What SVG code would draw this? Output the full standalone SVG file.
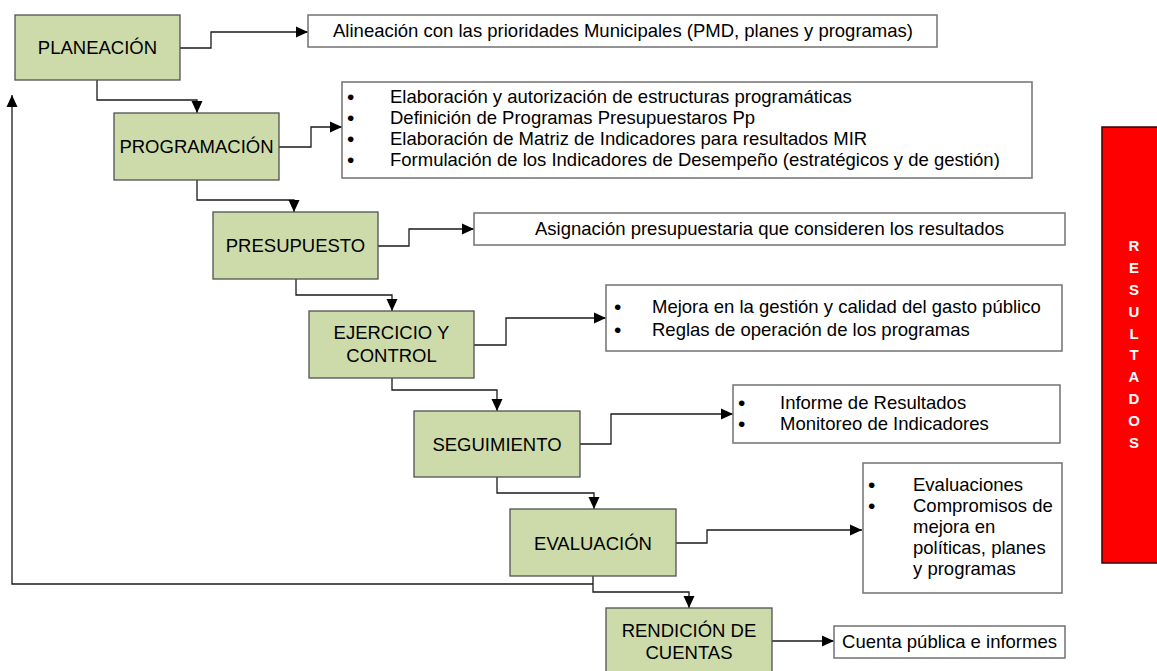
<svg xmlns="http://www.w3.org/2000/svg" width="1157" height="671" viewBox="0 0 1157 671">
<defs>
<style>
.step{fill:#cddbab;stroke:#505050;stroke-width:1.3}
.info{fill:#ffffff;stroke:#7a7a7a;stroke-width:1.6}
.t{font-family:"Liberation Sans",Arial,sans-serif;font-size:18.5px;fill:#000}
.b{font-family:"Liberation Sans",Arial,sans-serif;font-size:21px;fill:#000}
.c{text-anchor:middle}
.conn{fill:none;stroke:#1a1a1a;stroke-width:1.3}
.res{font-family:"Liberation Sans",Arial,sans-serif;font-size:15px;font-weight:bold;fill:#fff;text-anchor:middle}
</style>
<marker id="ah" markerUnits="userSpaceOnUse" markerWidth="12" markerHeight="12" refX="12" refY="6" orient="auto">
<path d="M0,0.5 L12,6 L0,11.5 z" fill="#000"/>
</marker>
</defs>
<rect width="1157" height="671" fill="#fff"/>

<g id="connectors">
<path class="conn" d="M180,48 H211 V32 H308" marker-end="url(#ah)"/>
<path class="conn" d="M97,80 V100 H197 V113" marker-end="url(#ah)"/>
<path class="conn" d="M279,147 H311 V127 H342" marker-end="url(#ah)"/>
<path class="conn" d="M197,180 V200 H294 V212" marker-end="url(#ah)"/>
<path class="conn" d="M378,246 H409 V229 H474" marker-end="url(#ah)"/>
<path class="conn" d="M296,279 V295 H392 V311" marker-end="url(#ah)"/>
<path class="conn" d="M474,345 H506 V318 H606" marker-end="url(#ah)"/>
<path class="conn" d="M392,378 V390 H497 V411" marker-end="url(#ah)"/>
<path class="conn" d="M580,444 H611 V414 H733" marker-end="url(#ah)"/>
<path class="conn" d="M497,477 V493 H594 V509" marker-end="url(#ah)"/>
<path class="conn" d="M676,543 H707 V530 H862" marker-end="url(#ah)"/>
<path class="conn" d="M593,576 V592 H689 V608" marker-end="url(#ah)"/>
<path class="conn" d="M593,584 H12 V95" marker-end="url(#ah)"/>
<path class="conn" d="M772,641 H834" marker-end="url(#ah)"/>
</g>

<g id="planeacion">
<rect class="step" x="15" y="15" width="165" height="65"/>
<text class="t c" x="97.5" y="54">PLANEACIÓN</text>
</g>
<g id="info-planeacion">
<rect class="info" x="308" y="15" width="629" height="32"/>
<text class="t c" x="623" y="37">Alineación con las prioridades Municipales (PMD, planes y programas)</text>
</g>

<g id="programacion">
<rect class="step" x="114" y="113" width="165" height="67"/>
<text class="t c" x="196.5" y="153">PROGRAMACIÓN</text>
</g>
<g id="info-programacion">
<rect class="info" x="342" y="82" width="690" height="96"/>
<text class="b" x="347" y="104">•</text><text class="t" x="390" y="103">Elaboración y autorización de estructuras programáticas</text>
<text class="b" x="347" y="125">•</text><text class="t" x="390" y="124">Definición de Programas Presupuestaros Pp</text>
<text class="b" x="347" y="146">•</text><text class="t" x="390" y="145">Elaboración de Matriz de Indicadores para resultados MIR</text>
<text class="b" x="347" y="167">•</text><text class="t" x="390" y="166">Formulación de los Indicadores de Desempeño (estratégicos y de gestión)</text>
</g>

<g id="presupuesto">
<rect class="step" x="213" y="212" width="165" height="67"/>
<text class="t c" x="295.5" y="252">PRESUPUESTO</text>
</g>
<g id="info-presupuesto">
<rect class="info" x="474" y="213" width="591" height="32"/>
<text class="t c" x="769.5" y="235">Asignación presupuestaria que consideren los resultados</text>
</g>

<g id="ejercicio">
<rect class="step" x="309" y="311" width="165" height="67"/>
<text class="t c" x="391.5" y="339">EJERCICIO Y</text>
<text class="t c" x="391.5" y="362">CONTROL</text>
</g>
<g id="info-ejercicio">
<rect class="info" x="606" y="285" width="456" height="66"/>
<text class="b" x="614" y="314">•</text><text class="t" x="652" y="313">Mejora en la gestión y calidad del gasto público</text>
<text class="b" x="614" y="337">•</text><text class="t" x="652" y="336">Reglas de operación de los programas</text>
</g>

<g id="seguimiento">
<rect class="step" x="414" y="411" width="166" height="66"/>
<text class="t c" x="497" y="451">SEGUIMIENTO</text>
</g>
<g id="info-seguimiento">
<rect class="info" x="733" y="385" width="327" height="58"/>
<text class="b" x="738" y="410">•</text><text class="t" x="780" y="409">Informe de Resultados</text>
<text class="b" x="738" y="431">•</text><text class="t" x="780" y="430">Monitoreo de Indicadores</text>
</g>

<g id="evaluacion">
<rect class="step" x="510" y="509" width="166" height="67"/>
<text class="t c" x="593" y="550">EVALUACIÓN</text>
</g>
<g id="info-evaluacion">
<rect class="info" x="863" y="463" width="199" height="130"/>
<text class="b" x="868" y="492">•</text><text class="t" x="913" y="491">Evaluaciones</text>
<text class="b" x="868" y="513">•</text><text class="t" x="913" y="512">Compromisos de</text>
<text class="t" x="913" y="533">mejora en</text>
<text class="t" x="913" y="554">políticas, planes</text>
<text class="t" x="913" y="575">y programas</text>
</g>

<g id="rendicion">
<rect class="step" x="606" y="608" width="166" height="70"/>
<text class="t c" x="689" y="637">RENDICIÓN DE</text>
<text class="t c" x="689" y="659">CUENTAS</text>
</g>
<g id="info-rendicion">
<rect class="info" x="834" y="626" width="231" height="32"/>
<text class="t c" x="949.5" y="648">Cuenta pública e informes</text>
</g>

<g id="resultados">
<rect x="1102" y="127" width="56" height="436" fill="#ff0000" stroke="#3a0000" stroke-width="1.5"/>
<text class="res" x="1134" y="251">R</text>
<text class="res" x="1134" y="273">E</text>
<text class="res" x="1134" y="295">S</text>
<text class="res" x="1134" y="317">U</text>
<text class="res" x="1134" y="339">L</text>
<text class="res" x="1134" y="360">T</text>
<text class="res" x="1134" y="382">A</text>
<text class="res" x="1134" y="404">D</text>
<text class="res" x="1134" y="426">O</text>
<text class="res" x="1134" y="448">S</text>
</g>
</svg>
